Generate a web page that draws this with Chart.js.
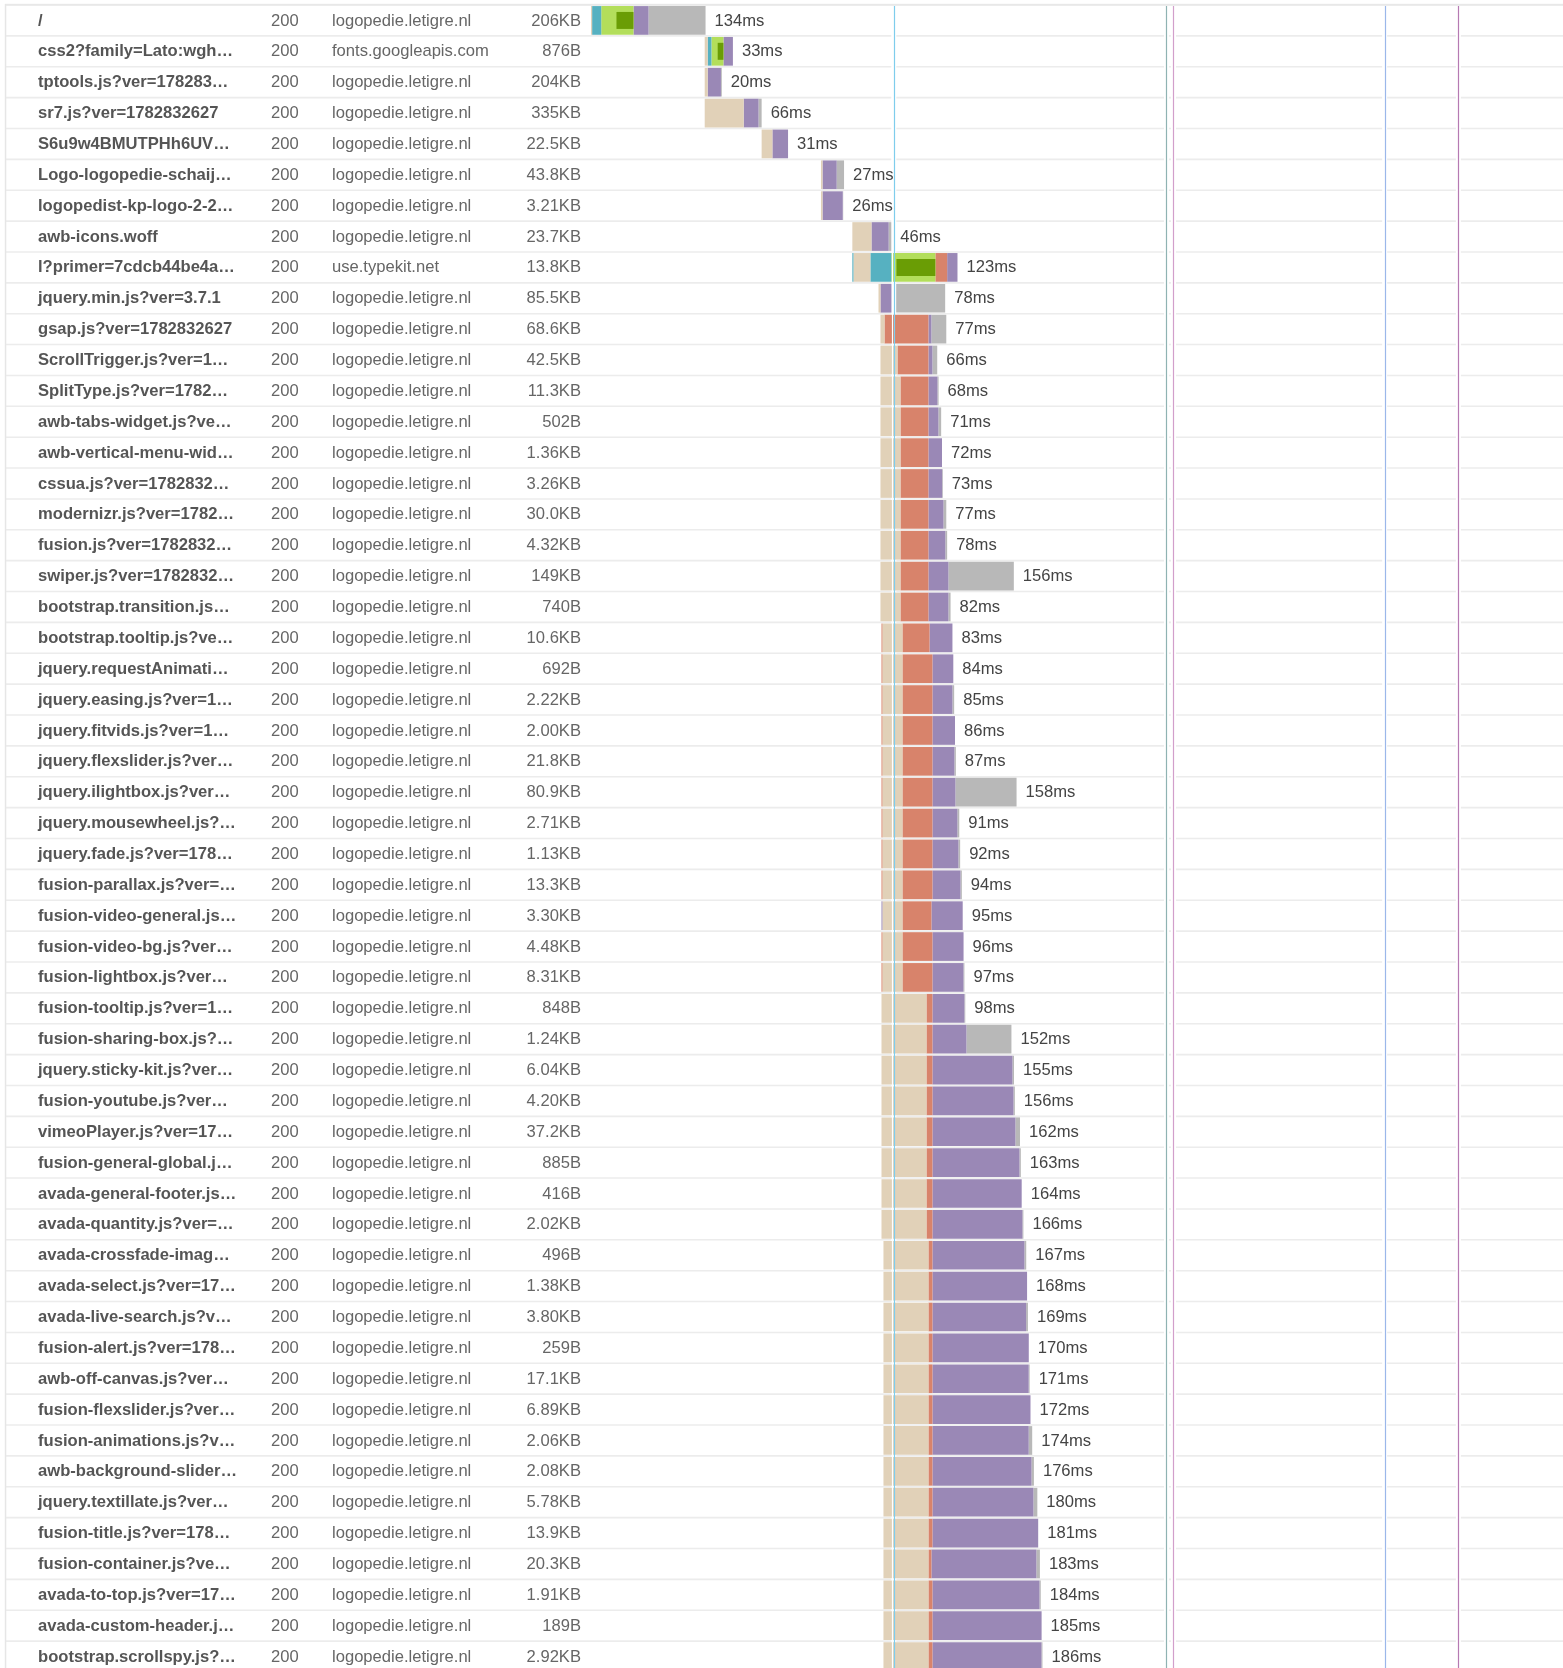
<!DOCTYPE html>
<html>
<head>
<meta charset="utf-8">
<title>Waterfall</title>
<script src="https://cdn.jsdelivr.net/npm/chart.js@4.4.1/dist/chart.umd.min.js"></script>
<style>
html, body { margin:0; padding:0; background:#fff; overflow:hidden; }
#wrap { position:relative; width:1563px; height:1668px; overflow:hidden; }
canvas { display:block; }
</style>
</head>
<body>
<div id="wrap"><canvas id="waterfall" width="1563" height="1673"></canvas></div>
<script>
// request table (one entry per row)
const names = ['/','css2?family=Lato:wgh…','tptools.js?ver=178283…','sr7.js?ver=1782832627','S6u9w4BMUTPHh6UV…',
    'Logo-logopedie-schaij…','logopedist-kp-logo-2-2…','awb-icons.woff','l?primer=7cdcb44be4a…','jquery.min.js?ver=3.7.1',
    'gsap.js?ver=1782832627','ScrollTrigger.js?ver=1…','SplitType.js?ver=1782…','awb-tabs-widget.js?ve…','awb-vertical-menu-wid…',
    'cssua.js?ver=1782832…','modernizr.js?ver=1782…','fusion.js?ver=1782832…','swiper.js?ver=1782832…','bootstrap.transition.js…',
    'bootstrap.tooltip.js?ve…','jquery.requestAnimati…','jquery.easing.js?ver=1…','jquery.fitvids.js?ver=1…','jquery.flexslider.js?ver…',
    'jquery.ilightbox.js?ver…','jquery.mousewheel.js?…','jquery.fade.js?ver=178…','fusion-parallax.js?ver=…','fusion-video-general.js…',
    'fusion-video-bg.js?ver…','fusion-lightbox.js?ver…','fusion-tooltip.js?ver=1…','fusion-sharing-box.js?…','jquery.sticky-kit.js?ver…',
    'fusion-youtube.js?ver…','vimeoPlayer.js?ver=17…','fusion-general-global.j…','avada-general-footer.js…','avada-quantity.js?ver=…',
    'avada-crossfade-imag…','avada-select.js?ver=17…','avada-live-search.js?v…','fusion-alert.js?ver=178…','awb-off-canvas.js?ver…',
    'fusion-flexslider.js?ver…','fusion-animations.js?v…','awb-background-slider…','jquery.textillate.js?ver…','fusion-title.js?ver=178…',
    'fusion-container.js?ve…','avada-to-top.js?ver=17…','avada-custom-header.j…','bootstrap.scrollspy.js?…'];
const statuses = [200,200,200,200,200,200,200,200,200,200,200,200,200,200,200,200,200,200,200,200,200,200,200,200,200,200,200,
    200,200,200,200,200,200,200,200,200,200,200,200,200,200,200,200,200,200,200,200,200,200,200,200,200,200,200];
const LT = 'logopedie.letigre.nl';
const domains = [LT,'fonts.googleapis.com',LT,LT,LT,LT,LT,LT,'use.typekit.net',LT,LT,LT,LT,LT,LT,LT,LT,LT,LT,LT,LT,LT,LT,LT,LT,LT,LT,
    LT,LT,LT,LT,LT,LT,LT,LT,LT,LT,LT,LT,LT,LT,LT,LT,LT,LT,LT,LT,LT,LT,LT,LT,LT,LT,LT];
const sizes = ['206KB','876B','204KB','335KB','22.5KB','43.8KB','3.21KB','23.7KB','13.8KB','85.5KB','68.6KB','42.5KB','11.3KB','502B',
    '1.36KB','3.26KB','30.0KB','4.32KB','149KB','740B','10.6KB','692B','2.22KB','2.00KB','21.8KB','80.9KB','2.71KB','1.13KB','13.3KB',
    '3.30KB','4.48KB','8.31KB','848B','1.24KB','6.04KB','4.20KB','37.2KB','885B','416B','2.02KB','496B','1.38KB','3.80KB','259B',
    '17.1KB','6.89KB','2.06KB','2.08KB','5.78KB','13.9KB','20.3KB','1.91KB','189B','2.92KB'];
const durations = [134,33,20,66,31,27,26,46,123,78,77,66,68,71,72,73,77,78,156,82,83,84,85,86,87,158,91,92,94,95,96,97,98,152,
    155,156,162,163,164,166,167,168,169,170,171,172,174,176,180,181,183,184,185,186];

// timing segments in ms, [start, end] per row
const blocked = [[0,1.3],[133,136.5],[133,136.5],[133,178.6],[199.6,212.2],[269,270.8],[269,270.8],[305.7,328.1],[307,326.8],
    [336.3,338.6],[338.6,343.3],[338.6,358.5],[338.6,362],[338.6,362],[338.6,362],[338.6,362],[338.6,362],[338.6,362],[338.6,362],
    [338.6,362],[340.9,364.3],[340.9,364.3],[340.9,364.3],[340.9,364.3],[340.9,364.3],[340.9,364.3],[340.9,364.3],[340.9,364.3],
    [340.9,364.3],[340.9,364.3],[340.9,364.3],[340.9,364.3],[339.8,392.4],[339.8,392.4],[339.8,392.4],[339.8,392.4],[339.8,392.4],
    [339.8,392.4],[339.8,392.4],[339.8,392.4],[342.1,394.7],[342.1,394.7],[342.1,394.7],[342.1,394.7],[342.1,394.7],[342.1,394.7],
    [342.1,394.7],[342.1,394.7],[342.1,394.7],[342.1,394.7],[342.1,394.7],[342.1,394.7],[342.1,394.7],[342.1,394.7]];
const dns = [[1.3,12],[136.5,140.9],null,null,null,null,null,null,[326.8,351.3]];
const connect = [[12,49.7],[140.9,154.9],null,null,null,null,null,null,[351.3,402.8]];
const ssl = [[29.8,49.7],[148.2,154.9],null,null,null,null,null,null,[357.3,402.8]];
const send = [null,null,null,null,null,null,null,null,[402.8,416.6],null,[343.3,394.7],[358.5,394.7],[362,394.7],[362,394.7],
    [362,394.7],[362,394.7],[362,394.7],[362,394.7],[362,394.7],[362,394.7],[364.3,396],[364.3,399.4],[364.3,399.4],[364.3,399.4],
    [364.3,399.4],[364.3,399.4],[364.3,399.4],[364.3,399.4],[364.3,399.4],[364.3,398.2],[364.3,399.4],[364.3,399.4],[392.4,399.4],
    [392.4,399.4],[392.4,399.4],[392.4,399.4],[392.4,399.4],[392.4,399.4],[392.4,399.4],[392.4,399.4],[394.7,399.4],[394.7,399.4],
    [394.7,399.4],[394.7,399.4],[394.7,399.4],[394.7,399.4],[394.7,399.4],[394.7,399.4],[394.7,399.4],[394.7,399.4],[394.7,398.2],
    [394.7,399.4],[394.7,399.4],[394.7,399.4]];
const wait = [[49.7,67.3],[154.9,166],[136.5,152],[178.6,196],[212.2,230.5],[270.8,287.4],[270.8,294.5],[328.1,348.2],[416.6,428.7],
    [338.6,351.5],[394.7,398.2],[394.7,399.4],[394.7,405.3],[394.7,406.4],[394.7,410.6],[394.7,410.8],[394.7,412.3],[394.7,414.5],
    [394.7,418.1],[394.7,418.1],[396,422.8],[399.4,423.8],[399.4,422.8],[399.4,425.8],[399.4,425.1],[399.4,426.3],[399.4,428.6],
    [399.4,429.8],[399.4,432.2],[398.2,434.8],[399.4,435.8],[399.4,435.7],[399.4,436.8],[399.4,439.2],[399.4,493],[399.4,494.2],
    [399.4,496.5],[399.4,501.2],[399.4,503.8],[399.4,504.7],[399.4,507],[399.4,510.1],[399.4,509],[399.4,512.1],[399.4,512],
    [399.4,514.1],[399.4,512],[399.4,515.3],[399.4,517.5],[399.4,523.1],[398.2,521],[399.4,524.6],[399.4,527.1],[399.4,527]];
const receive = [[67.3,134],null,[152,153],[196,199.6],null,[287.4,296],[294.5,295],[348.2,351.3],null,[357,414.3],[398.2,415.6],
    [399.4,405],[405.3,406.6],[406.4,409.6],null,[410.8,411.6],[412.3,415.6],[414.5,416.6],[418.1,494.6],[418.1,420.6],null,null,
    [422.8,424.8],null,[425.1,426.8],[426.3,497.8],[428.6,430.8],[429.8,431.8],[432.2,433.8],null,null,[435.7,436.8],[436.8,437.8],
    [439.2,491.8],[493,494.8],[494.2,495.8],[496.5,501.8],[501.2,502.8],null,[504.7,505.8],[507,509.1],null,[509,511.1],null,
    [512,513.1],null,[512,516.1],[515.3,518.1],[517.5,522.1],null,[521,525.1],[524.6,526.1],null,[527,528.1]];
// hairline marks at the very start of some rows
const lead = [null,null,null,null,null,null,null,null,[305.7,307],null,null,null,null,null,null,null,null,null,null,null,
    [339.8,340.9],[339.8,340.9],[339.8,340.9],[339.8,340.9],[339.8,340.9],[339.8,340.9],[339.8,340.9],[339.8,340.9],[339.8,340.9],
    [339.8,340.9],[339.8,340.9],[339.8,340.9]];

// page events (ms)
const eventTimes = [351.8, 354.2, 673.1, 681.3, 928.4, 1014.6];
const eventColors = ['#ffffff','#7fcdec','#8fb3b3','#d29fcb','#9bb7ea','#b67ab3'];

const C = {
    blocked:'#e1d1b8', dns:'#56b1c1', connect:'#b3de5b', ssl:'#6a9d05',
    send:'#d8836b', wait:'#9a88b6', receive:'#b8b8b8'
};
const FONT = '16.6px "Liberation Sans", Arial, sans-serif';
const FONT_B = 'bold 16.6px "Liberation Sans", Arial, sans-serif';

function pad(arr){
    const out = arr.slice();
    while(out.length < names.length) out.push(null);
    return out;
}

function rowEnd(i){
    let end = 0;
    [blocked,dns,connect,ssl,send,wait,receive].forEach(a => {
        if(a[i] && a[i][1] > end) end = a[i][1];
    });
    return end;
}

function bandEdges(y){
    const edges = [];
    for(let i = 0; i <= names.length; i++){
        if(i === 0) edges.push(y.top);
        else if(i === names.length) edges.push(y.bottom);
        else edges.push((y.getPixelForValue(i-1) + y.getPixelForValue(i)) / 2);
    }
    return edges;
}

const gridPlugin = {
    id: 'grid',
    beforeDatasetsDraw(chart){
        const {ctx, scales:{x, y}} = chart;
        const w = chart.width;
        ctx.save();
        // row separators
        ctx.strokeStyle = '#ececec';
        ctx.lineWidth = 1.6;
        bandEdges(y).forEach((e, i) => {
            if(i === 0) return;
            ctx.beginPath();
            ctx.moveTo(5, e);
            ctx.lineTo(w, e);
            ctx.stroke();
        });
        // top and left border
        ctx.fillStyle = '#e8e8e8';
        ctx.fillRect(5, 3.8, w - 5, 2);
        ctx.fillStyle = '#e6e6e6';
        ctx.fillRect(4.8, 4, 1.5, chart.height);
        // white gaps around event lines
        ctx.fillStyle = '#ffffff';
        eventTimes.forEach((t, k) => {
            if(k === 0) return;
            const px = x.getPixelForValue(t);
            ctx.fillRect(px - 2.5, y.top + 1, 5, chart.height);
        });
        ctx.restore();
    },
    afterDatasetsDraw(chart){
        const {ctx, scales:{x, y}} = chart;
        ctx.save();
        eventTimes.forEach((t, k) => {
            const px = Math.round(x.getPixelForValue(t)) + 0.5;
            ctx.strokeStyle = eventColors[k];
            ctx.lineWidth = 1.2;
            ctx.beginPath();
            ctx.moveTo(px, y.top + 1);
            ctx.lineTo(px, chart.height);
            ctx.stroke();
        });

        ctx.textBaseline = 'middle';
        names.forEach((n, i) => {
            const cy = y.getPixelForValue(i) + 0.5;
            ctx.font = FONT_B;
            ctx.fillStyle = '#555';
            ctx.textAlign = 'left';
            ctx.fillText(n, 38, cy);
            ctx.font = FONT;
            ctx.fillStyle = '#666';
            ctx.fillText(String(statuses[i]), 271, cy);
            ctx.fillText(domains[i], 332, cy);
            ctx.textAlign = 'right';
            ctx.fillText(sizes[i], 581, cy);
            ctx.textAlign = 'left';
            ctx.fillStyle = '#444';
            ctx.fillText(durations[i] + 'ms', x.getPixelForValue(rowEnd(i)) + 9, cy);
        });
        ctx.restore();
    }
};

// chart.js paints higher `order` first, so order 0 ends up on top
function seg(label, data, color, thick, order){
    return {
        label: label,
        data: pad(data),
        backgroundColor: color,
        grouped: false,
        order: order,
        categoryPercentage: 1,
        barPercentage: thick,
        borderWidth: 0,
        borderSkipped: false
    };
}

const leadColors = pad(lead).map((v, i) => i === 8 ? C.dns : (i === 29 ? C.wait : C.send));

new Chart(document.getElementById('waterfall'), {
    type: 'bar',
    data: {
        labels: names,
        datasets: [
            seg('Blocked', blocked, C.blocked, 0.93, 2),
            Object.assign(seg('Lead', lead, C.send, 0.93, 0), {backgroundColor: leadColors}),
            seg('DNS', dns, C.dns, 0.93, 2),
            seg('Connect', connect, C.connect, 0.93, 2),
            seg('SSL', ssl, C.ssl, 0.55, 0),
            seg('Send', send, C.send, 0.93, 2),
            seg('Wait', wait, C.wait, 0.93, 2),
            seg('Receive', receive, C.receive, 0.93, 2)
        ]
    },
    options: {
        indexAxis: 'y',
        responsive: false,
        devicePixelRatio: 1,
        animation: false,
        layout: {padding: {left: 591, right: 0, top: 5, bottom: 1}},
        scales: {
            x: {type: 'linear', min: 0, max: 1137, display: false},
            y: {display: false}
        },
        plugins: {legend: {display: false}, tooltip: {enabled: false}}
    },
    plugins: [gridPlugin]
});
</script>
</body>
</html>
